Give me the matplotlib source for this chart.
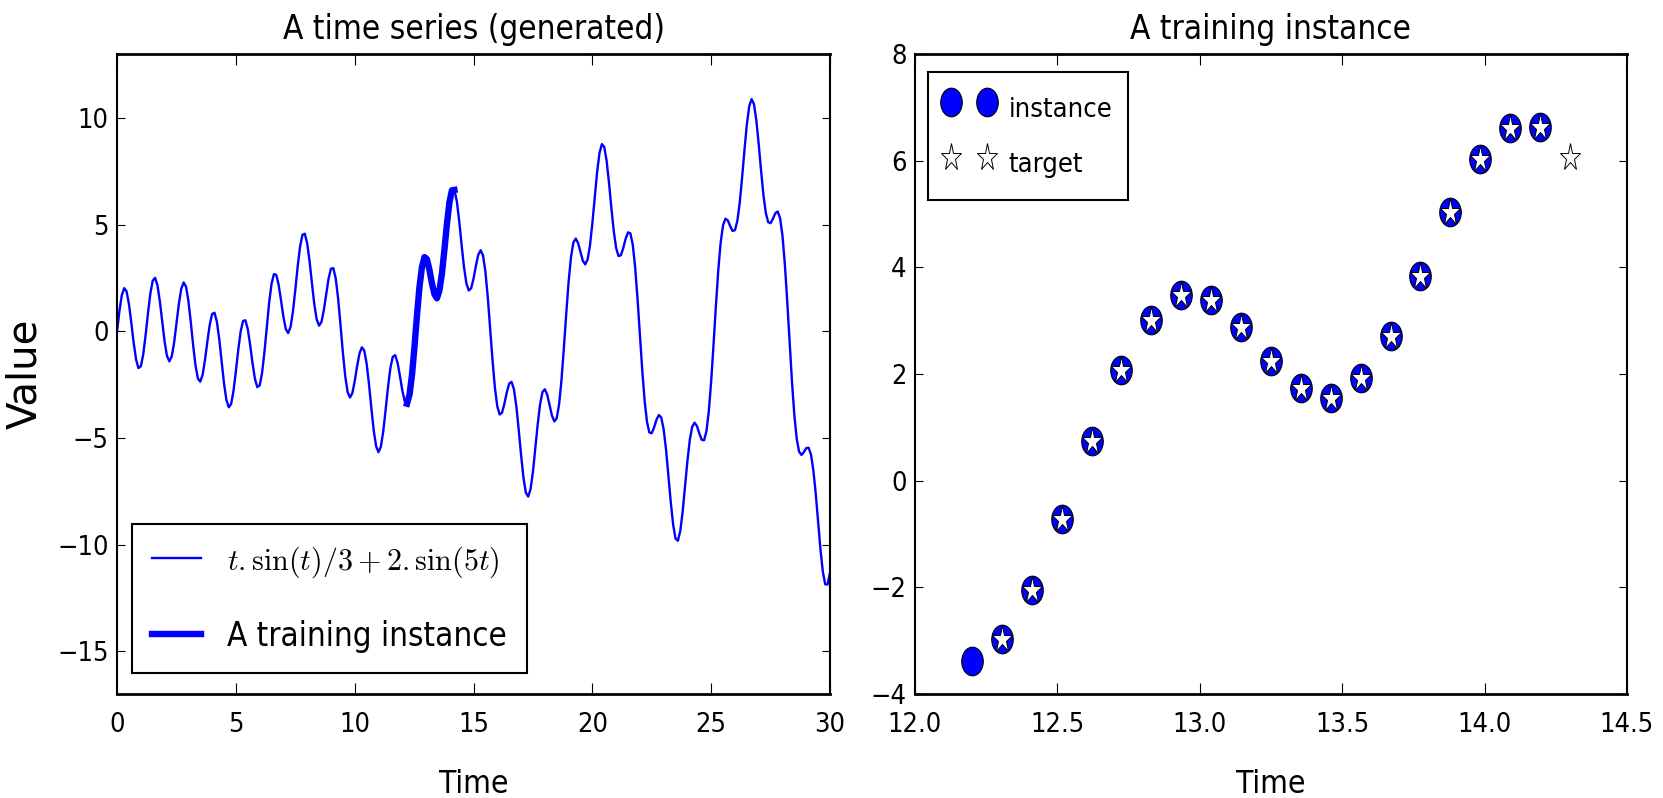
import os
import numpy as np
from matplotlib import pyplot as plt
from matplotlib import font_manager
from matplotlib.markers import MarkerStyle
from matplotlib.transforms import Affine2D

# Data
times = np.linspace(0, 30, 301)
values = np.array([
    0.000, 0.962, 1.696, 2.025, 1.871, 1.277, 0.395, -0.551, -1.322, -1.720,
    -1.637, -1.084, -0.186, 0.847, 1.773, 2.373, 2.510, 2.158, 1.408, 0.449,
    -0.481, -1.154, -1.406, -1.178, -0.532, 0.366, 1.286, 1.990, 2.292, 2.099,
    1.440, 0.455, -0.637, -1.595, -2.210, -2.358, -2.031, -1.338, -0.476, 0.315,
    0.815, 0.873, 0.451, -0.371, -1.413, -2.439, -3.214, -3.560, -3.403, -2.786,
    -1.863, -0.857, -0.008, 0.486, 0.520, 0.103, -0.637, -1.493, -2.224, -2.615,
    -2.533, -1.955, -0.979, 0.203, 1.351, 2.232, 2.683, 2.645, 2.177, 1.444,
    0.676, 0.107, -0.079, 0.206, 0.929, 1.948, 3.043, 3.970, 4.522, 4.576,
    4.127, 3.285, 2.252, 1.269, 0.558, 0.269, 0.440, 0.994, 1.750, 2.474,
    2.936, 2.963, 2.485, 1.553, 0.325, -0.972, -2.093, -2.839, -3.102, -2.894,
    -2.337, -1.639, -1.039, -0.748, -0.897, -1.503, -2.467, -3.595, -4.645, -5.388,
    -5.661, -5.409, -4.695, -3.688, -2.620, -1.727, -1.196, -1.115, -1.454, -2.073,
    -2.754, -3.259, -3.386, -3.019, -2.161, -0.927, 0.475, 1.801, 2.825, 3.395,
    3.471, 3.130, 2.549, 1.961, 1.594, 1.617, 2.097, 2.980, 4.107, 5.249,
    6.164, 6.656, 6.620, 6.070, 5.137, 4.032, 2.997, 2.247, 1.915, 2.023,
    2.473, 3.075, 3.594, 3.805, 3.553, 2.790, 1.588, 0.121, -1.372, -2.649,
    -3.521, -3.898, -3.808, -3.389, -2.858, -2.451, -2.367, -2.717, -3.500, -4.594,
    -5.794, -6.855, -7.555, -7.746, -7.393, -6.580, -5.490, -4.359, -3.422, -2.850,
    -2.715, -2.968, -3.454, -3.949, -4.220, -4.076, -3.424, -2.286, -0.800, 0.816,
    2.313, 3.473, 4.159, 4.349, 4.137, 3.711, 3.305, 3.139, 3.368, 4.035,
    5.067, 6.289, 7.465, 8.356, 8.778, 8.645, 7.992, 6.967, 5.789, 4.702,
    3.910, 3.531, 3.567, 3.903, 4.340, 4.642, 4.594, 4.059, 3.011, 1.543,
    -0.153, -1.834, -3.260, -4.255, -4.744, -4.773, -4.497, -4.136, -3.922, -4.042,
    -4.589, -5.538, -6.750, -8.008, -9.068, -9.713, -9.815, -9.357, -8.443, -7.268,
    -6.075, -5.091, -4.475, -4.280, -4.437, -4.779, -5.079, -5.106, -4.687, -3.747,
    -2.333, -0.599, 1.223, 2.885, 4.177, 4.976, 5.280, 5.199, 4.930, 4.708,
    4.744, 5.173, 6.020, 7.190, 8.495, 9.691, 10.545, 10.887, 10.652, 9.893,
    8.774, 7.524, 6.384, 5.548, 5.116, 5.070, 5.282, 5.543, 5.618, 5.305,
    4.484, 3.152, 1.423, -0.498, -2.360, -3.929, -5.041, -5.641, -5.793, -5.662,
    -5.473, -5.454, -5.777, -6.514, -7.618, -8.935, -10.237, -11.280, -11.860, -11.865,
    -11.298,
])

instance_times = np.linspace(12.2, 14.3, 21)
instance_values = np.array([
    -3.39, -2.97, -2.05, -0.72, 0.75, 2.08, 3.02, 3.48, 3.38, 2.88, 2.25,
    1.74, 1.55, 1.92, 2.71, 3.83, 5.03, 6.04, 6.61, 6.63, 6.06,
])

left_xticks = [0, 5, 10, 15, 20, 25, 30]
left_yticks = [-15, -10, -5, 0, 5, 10]
right_xticks = [12.0, 12.5, 13.0, 13.5, 14.0, 14.5]
right_xlabels = ['12.0', '12.5', '13.0', '13.5', '14.0', '14.5']
right_yticks = [-4, -2, 0, 2, 4, 6, 8]

# The reference text is tall and narrow: use a condensed face if there is one,
# otherwise plain DejaVu a bit larger than width alone would ask for.
candidates = [('DejaVuSansCondensed.ttf', 0.9),
              ('LiberationSansNarrow-Regular.ttf', 0.716),
              ('RobotoCondensed-Regular.ttf', 0.79)]
by_file = {os.path.basename(f.fname): f for f in font_manager.fontManager.ttflist}
family, stretch, w = 'DejaVu Sans', 'normal', 0.82
for fname, width in candidates:
    if fname in by_file:
        family, stretch, w = by_file[fname].name, by_file[fname].stretch, width
        break

plt.rcParams['font.family'] = [family, 'DejaVu Sans']
plt.rcParams['font.stretch'] = stretch
plt.rcParams['mathtext.fontset'] = 'cm'
plt.rcParams['axes.unicode_minus'] = True

title_size = 21.5 / w
tick_size = 17.6 / w
label_size = 20.5 / w
legend1_size = 21.4 / w
legend2_size = 17.6 / w


def px(n, size):
    # pixels -> legend "em" units for a given font size (dpi 100)
    return n / (size * 100 / 72)


def style(ax):
    for side in ['left', 'right']:
        ax.spines[side].set_linewidth(1.5)
    for side in ['top', 'bottom']:
        ax.spines[side].set_linewidth(2.0)
    ax.tick_params(direction='in', top=True, right=True, width=0.8, labelsize=tick_size)
    ax.tick_params(axis='x', length=8, pad=13)
    ax.tick_params(axis='y', length=6, pad=6)


fig = plt.figure(figsize=(16.63, 7.98), dpi=100)
ax1 = fig.add_axes([0.0704, 0.1303, 0.4287, 0.802])
ax2 = fig.add_axes([0.5502, 0.1303, 0.4281, 0.802])

# Left: the whole series
ax1.plot(times, values, color='b', lw=1.7, label=r'$t . \sin(t) / 3 + 2 . \sin(5t)$')
ax1.plot(instance_times[:-1], instance_values[:-1], color='b', lw=4.6,
         label='A training instance')
ax1.set_xlim(0, 30)
ax1.set_ylim(-17, 13)
ax1.set_xticks(left_xticks)
ax1.set_yticks(left_yticks)
style(ax1)
ax1.set_title('A time series (generated)', fontsize=title_size, pad=11)
ax1.set_xlabel('Time', fontsize=label_size, labelpad=22)
ax1.set_ylabel('Value', family='DejaVu Sans', stretch='normal', fontsize=29, labelpad=9)
leg1 = ax1.legend(loc='lower left', bbox_to_anchor=(0.021, 0.033), borderaxespad=0,
                  fontsize=legend1_size,
                  handlelength=px(49, legend1_size), handletextpad=px(26, legend1_size),
                  borderpad=px(20, legend1_size), labelspacing=px(40, legend1_size),
                  fancybox=False, framealpha=1, edgecolor='k')
leg1.get_frame().set_linewidth(1.5)
leg1.get_texts()[0].set_fontsize(21.6)

# Right: one instance
circle = MarkerStyle('o', transform=Affine2D().scale(1, 1.33))
star = MarkerStyle('*', transform=Affine2D().scale(1, 1.33))
ax2.plot(instance_times[:-1], instance_values[:-1], ls='none', marker=circle, ms=15.5,
         mfc='b', mec='k', mew=0.8, label='instance')
ax2.plot(instance_times[1:], instance_values[1:], ls='none', marker=star, ms=15.5,
         mfc='w', mec='k', mew=0.7, label='target')
ax2.set_xlim(12.0, 14.5)
ax2.set_ylim(-4, 8)
ax2.set_xticks(right_xticks)
ax2.set_xticklabels(right_xlabels)
ax2.set_yticks(right_yticks)
style(ax2)
ax2.set_title('A training instance', fontsize=title_size, pad=11)
ax2.set_xlabel('Time', fontsize=label_size, labelpad=22)
leg2 = ax2.legend(loc='upper left', bbox_to_anchor=(0.018, 0.972), borderaxespad=0,
                  numpoints=2, fontsize=legend2_size,
                  handlelength=px(52, legend2_size), handletextpad=px(14, legend2_size),
                  handleheight=px(57, legend2_size),
                  borderpad=px(15, legend2_size), labelspacing=px(11, legend2_size),
                  fancybox=False, framealpha=1, edgecolor='k')
leg2.get_frame().set_linewidth(1.5)

fig.savefig('out.png', dpi=100, facecolor='white')
